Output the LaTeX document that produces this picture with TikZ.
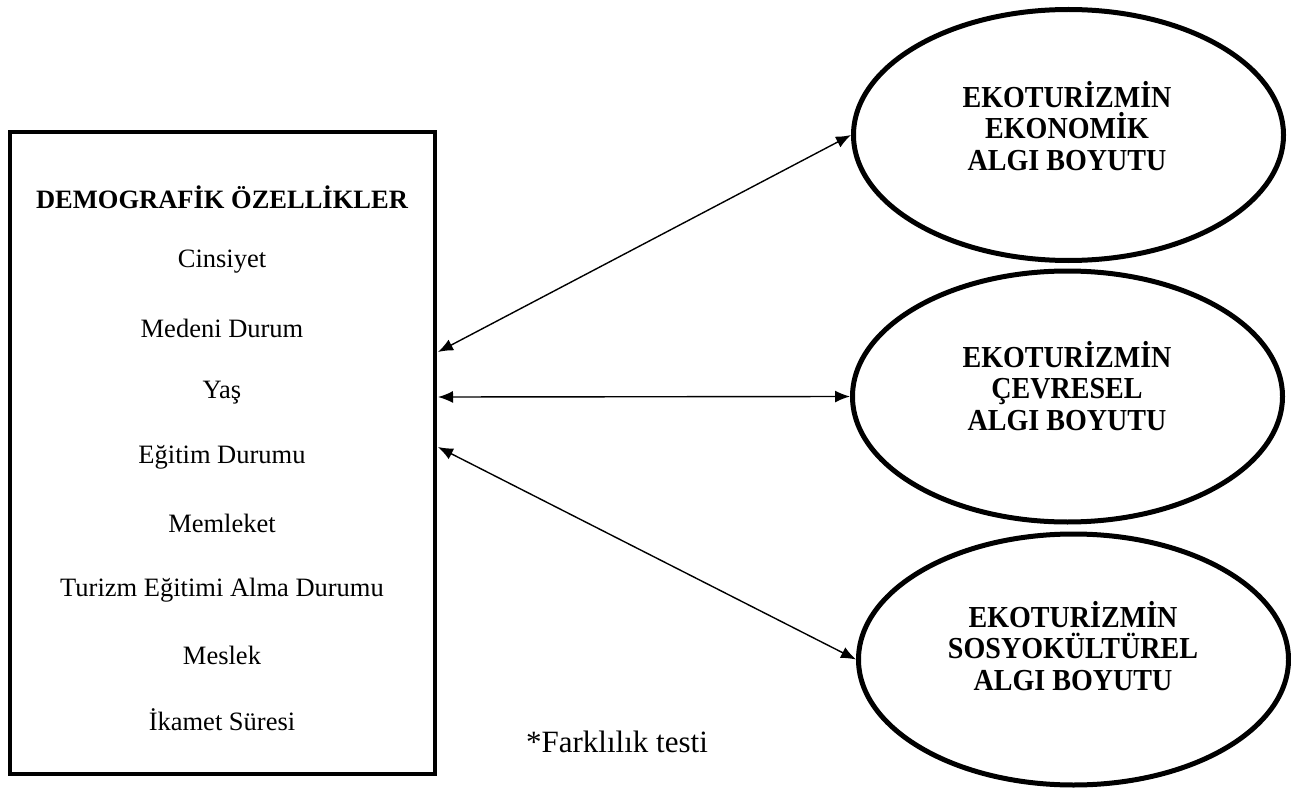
\documentclass[tikz,border=0pt]{standalone}
\usepackage{fontspec}
\setmainfont{Liberation Serif}
\newfontfamily\narrowbold[FakeStretch=0.92]{Liberation Serif Bold}
\usetikzlibrary{arrows.meta,shapes.geometric}
\tikzset{
  txt/.style={font=\fontsize{26.5}{32}\selectfont, inner sep=0pt, align=center},
  btxt/.style={font=\fontsize{26.5}{32}\selectfont\bfseries, inner sep=0pt, align=center},
  etxt/.style={font=\fontsize{30.5}{31.5}\narrowbold, inner sep=0pt, align=center},
  notetxt/.style={font=\fontsize{31}{36}\selectfont, inner sep=0pt},
  bigbox/.style={draw, line width=4.5pt, minimum width=425pt, minimum height=642pt, inner sep=0pt},
  oval/.style={draw, ellipse, line width=5pt, minimum width=430pt, minimum height=251pt, inner sep=0pt},
  link/.style={line width=1.4pt, {Latex[length=15pt,width=12pt]}-{Latex[length=15pt,width=12pt]}}
}
\begin{document}
\begin{tikzpicture}[x=1pt,y=-1pt]
\useasboundingbox (0,0) rectangle (1291,789);
\node[bigbox] (demo) at (222.5,453) {};
\node[btxt] (title) at (222,197) {DEMOGRAFİK ÖZELLİKLER};
\node[txt] (i1) at (222,262) {Cinsiyet};
\node[txt] (i2) at (222,328) {Medeni Durum};
\node[txt] (i3) at (222,393) {Yaş};
\node[txt] (i4) at (222,457) {Eğitim Durumu};
\node[txt] (i5) at (222,523) {Memleket};
\node[txt] (i6) at (222,590) {Turizm Eğitimi Alma Durumu};
\node[txt] (i7) at (222,655) {Meslek};
\node[txt] (i8) at (222,720) {İkamet Süresi};

\node[oval] (e1) at (1068.5,135) {};
\node[oval] (e2) at (1067.5,396.5) {};
\node[oval] (e3) at (1073.5,659.5) {};
\node[etxt] (t1) at (1067,126) {EKOTURİZMİN\\EKONOMİK\\ALGI BOYUTU};
\node[etxt] (t2) at (1067,386) {EKOTURİZMİN\\ÇEVRESEL\\ALGI BOYUTU};
\node[etxt] (t3) at (1073,646) {EKOTURİZMİN\\SOSYOKÜLTÜREL\\ALGI BOYUTU};

\coordinate (a1) at (438,352);
\coordinate (a2) at (438,397);
\coordinate (a3) at (438,447);
\draw[link] (a1) -- (e1.west);
\draw[link] (a2) -- (e2.west);
\draw[link] (a3) -- (e3.west);

\node[notetxt] (note) at (617,742) {*Farklılık testi};
\end{tikzpicture}
\end{document}
